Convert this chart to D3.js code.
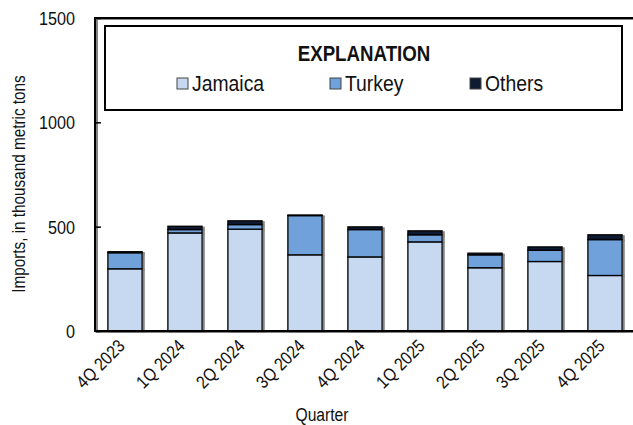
<!DOCTYPE html>
<html>
<head>
<meta charset="utf-8">
<script src="https://cdn.jsdelivr.net/npm/d3@7"></script>
<style>
  body { margin: 0; background: #fff; }
  text { font-family: "Liberation Sans", Arial, sans-serif; fill: #111; }
</style>
</head>
<body>
<div id="chart"></div>
<script>
// quarters and import values (thousand metric tons)
var quarters = ["4Q 2023", "1Q 2024", "2Q 2024", "3Q 2024", "4Q 2024", "1Q 2025", "2Q 2025", "3Q 2025", "4Q 2025"];
var jamaica = [298, 470, 488, 365, 355, 427, 303, 333, 266];
var turkey = [77, 16, 22, 188, 131, 34, 62, 54, 172];
var others = [5, 16, 18, 3, 13, 19, 8, 16, 23];
var seriesNames = ["Jamaica", "Turkey", "Others"];
var seriesColors = ["#c6d9f1", "#6fa1da", "#0e1b30"];
var yTicks = [0, 500, 1000, 1500];

var width = 633, height = 425,
  margin = { top: 18, bottom: 94, left: 95, right: -2 };
var narrow = 0.87; // squeeze text to look like a narrow face

var svg = d3.select("#chart").append("svg")
  .attr("width", width)
  .attr("height", height);

var defs = svg.append("defs");
var shadow = defs.append("filter")
  .attr("id", "shadow")
  .attr("x", "-20%").attr("y", "-20%")
  .attr("width", "140%").attr("height", "140%");
shadow.append("feDropShadow")
  .attr("dx", 2).attr("dy", 1)
  .attr("stdDeviation", 0.6)
  .attr("flood-color", "#666")
  .attr("flood-opacity", 0.8);

var x = d3.scaleBand()
  .domain(quarters)
  .range([margin.left, width - margin.right])
  .paddingInner(0.43)
  .paddingOuter(0.215);

var y = d3.scaleLinear()
  .domain([0, 1500])
  .range([height - margin.bottom, margin.top]);

// build stacked rows
var rows = quarters.map(function (q, i) {
  return { quarter: q, Jamaica: jamaica[i], Turkey: turkey[i], Others: others[i] };
});
var stacked = d3.stack().keys(seriesNames)(rows);

var bars = svg.append("g").attr("filter", "url(#shadow)");
stacked.forEach(function (layer, k) {
  bars.selectAll(null)
    .data(layer)
    .enter()
    .append("rect")
    .attr("x", function (d) { return x(d.data.quarter); })
    .attr("y", function (d) { return y(d[1]); })
    .attr("width", x.bandwidth())
    .attr("height", function (d) { return y(d[0]) - y(d[1]); })
    .style("fill", seriesColors[k])
    .style("stroke", "#000")
    .style("stroke-width", 1.3);
});

// frame: top line, left axis, bottom axis
var frame = svg.append("g").attr("filter", "url(#shadow)")
  .style("stroke", "#000").style("stroke-width", 2).style("fill", "none");
frame.append("path")
  .attr("d", "M" + (width + 5) + "," + y(1500) + "H" + margin.left + "V" + y(0) + "H" + (width + 5));

// y axis with inward ticks
var yAxis = svg.append("g")
  .attr("transform", "translate(" + margin.left + ",0)")
  .call(d3.axisRight(y).tickValues(yTicks).tickSize(6).tickFormat(""));
yAxis.select(".domain").remove();
yAxis.selectAll("line").style("stroke", "#000").style("stroke-width", 1.5);

svg.selectAll(".ylab")
  .data(yTicks)
  .enter()
  .append("text")
  .attr("class", "ylab")
  .attr("transform", function (d) {
    return "translate(75," + (y(d) + 7) + ") scale(" + narrow + ",1)";
  })
  .attr("text-anchor", "end")
  .style("font-size", "18.6px")
  .text(function (d) { return d; });

// x labels, rotated
svg.selectAll(".xlab")
  .data(quarters)
  .enter()
  .append("text")
  .attr("class", "xlab")
  .attr("text-anchor", "end")
  .attr("transform", function (d) {
    var cx = x(d) + x.bandwidth() / 2 + 1;
    return "translate(" + cx + ",347) rotate(-45) scale(" + narrow + ",1)";
  })
  .style("font-size", "18px")
  .text(function (d) { return d; });

svg.append("text")
  .attr("transform", "translate(322,421) scale(" + narrow + ",1)")
  .attr("text-anchor", "middle")
  .style("font-size", "18px")
  .text("Quarter");

svg.append("text")
  .attr("transform", "translate(25,184) rotate(-90) scale(0.85,1)")
  .attr("text-anchor", "middle")
  .style("font-size", "18px")
  .text("Imports, in thousand metric tons");

// legend
var legend = svg.append("g");
legend.append("rect")
  .attr("x", 105).attr("y", 26)
  .attr("width", 517).attr("height", 84)
  .style("fill", "#fff")
  .style("stroke", "#000")
  .style("stroke-width", 2);
legend.append("text")
  .attr("transform", "translate(364,61) scale(0.85,1)")
  .attr("text-anchor", "middle")
  .style("font-size", "22px")
  .style("font-weight", "bold")
  .text("EXPLANATION");

var legendX = [177, 330, 470];
var item = legend.selectAll(".item")
  .data(seriesNames)
  .enter()
  .append("g")
  .attr("transform", function (d, i) { return "translate(" + legendX[i] + ",78)"; });
item.append("rect")
  .attr("width", 11).attr("height", 11)
  .style("fill", function (d, i) { return seriesColors[i]; })
  .style("stroke", "#444")
  .style("stroke-width", 1);
item.append("text")
  .attr("transform", "translate(15,13) scale(0.88,1)")
  .style("font-size", "22px")
  .text(function (d) { return d; });
</script>
</body>
</html>
